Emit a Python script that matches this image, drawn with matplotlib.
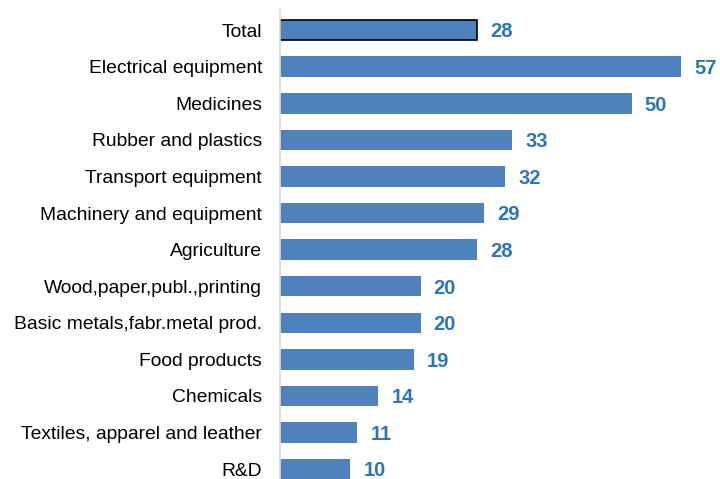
import numpy as np
import matplotlib.pyplot as plt

plt.rcParams['font.family'] = ['Liberation Sans', 'DejaVu Sans']

# Share by sector, top row is the total
sectors = ['Total', 'Electrical equipment', 'Medicines', 'Rubber and plastics',
           'Transport equipment', 'Machinery and equipment', 'Agriculture',
           'Wood,paper,publ.,printing', 'Basic metals,fabr.metal prod.',
           'Food products', 'Chemicals', 'Textiles, apparel and leather', 'R&D']
values = [28, 57, 50, 33, 32, 29, 28, 20, 20, 19, 14, 11, 10]

bar_color = '#4F81BD'
label_color = '#2E75B6'

fig = plt.figure(figsize=(7.2, 4.79), dpi=100)
ax = fig.add_axes([280 / 720, 0, 440 / 720, 469 / 479])

y = np.arange(len(sectors))
bars = ax.barh(y, values, height=0.56, color=bar_color, edgecolor='none')
# outline the total bar
bars[0].set_edgecolor('black')
bars[0].set_linewidth(1.2)

for yi, v in zip(y, values):
    ax.text(v + 1.85, yi + 0.05, str(v), color=label_color, fontsize=14.5,
            fontweight='bold', va='center', ha='left')

ax.set_xlim(0, 440 / 7.035)
ax.set_ylim(12.27, -0.55)
ax.set_yticks(y)
ax.set_yticklabels(sectors, fontsize=13.9)
ax.tick_params(axis='y', length=0, pad=13)
ax.set_xticks([])

for side in ['top', 'right', 'bottom']:
    ax.spines[side].set_visible(False)
ax.spines['left'].set_color('#d9d9d9')
ax.spines['left'].set_linewidth(1.2)

fig.savefig('out.png', dpi=100)
